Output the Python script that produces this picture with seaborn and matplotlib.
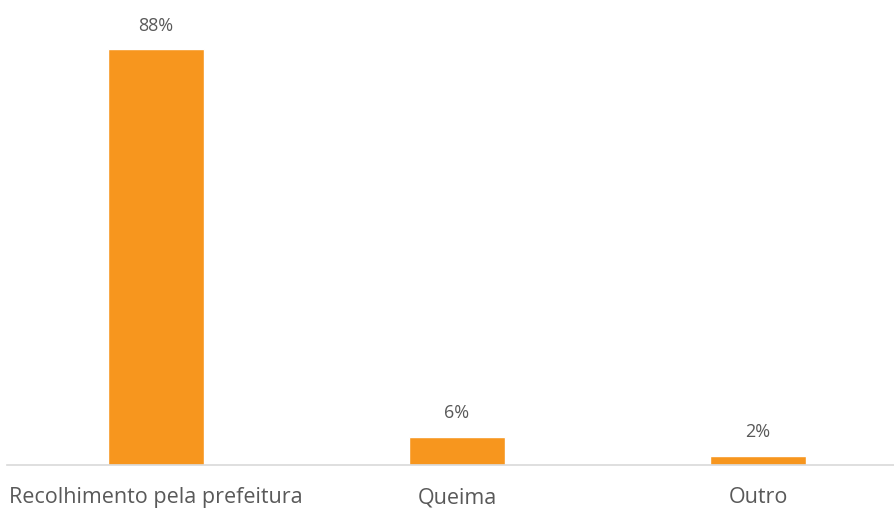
import matplotlib
matplotlib.use("Agg")
import matplotlib.pyplot as plt
import seaborn as sns
import pandas as pd

categories = ["Recolhimento pela prefeitura", "Queima", "Outro"]
values = [88, 6, 2]
labels = ["88%", "6%", "2%"]

sns.set_style("white")
plt.rcParams["font.family"] = ["Open Sans", "DejaVu Sans"]

df = pd.DataFrame({"cat": categories, "val": values})

fig = plt.figure(figsize=(8.95, 5.08), dpi=100)
ax = fig.add_axes([7 / 895, 43 / 508, 888 / 895, 465 / 508])
sns.barplot(data=df, x="cat", y="val", color="#F7961E", saturation=1,
            width=0.32, ax=ax)

# percent labels above each bar
for i, (v, t) in enumerate(zip(values, labels)):
    ax.annotate(t, (i, v), xytext=(0, 17), textcoords="offset points",
                ha="center", va="center", fontsize=13, color="#595959")

ax.set_xlim(-0.495, 2.455)
ax.set_ylim(0, 98.4)
ax.set_xlabel("")
ax.set_ylabel("")
ax.set_yticks([])
ax.tick_params(axis="x", length=0, pad=16, labelsize=15.5, labelcolor="#595959")
for s in ["top", "right", "left"]:
    ax.spines[s].set_visible(False)
ax.spines["bottom"].set_color("#d9d9d9")
ax.spines["bottom"].set_linewidth(1.2)

fig.savefig("out.png", dpi=100)
